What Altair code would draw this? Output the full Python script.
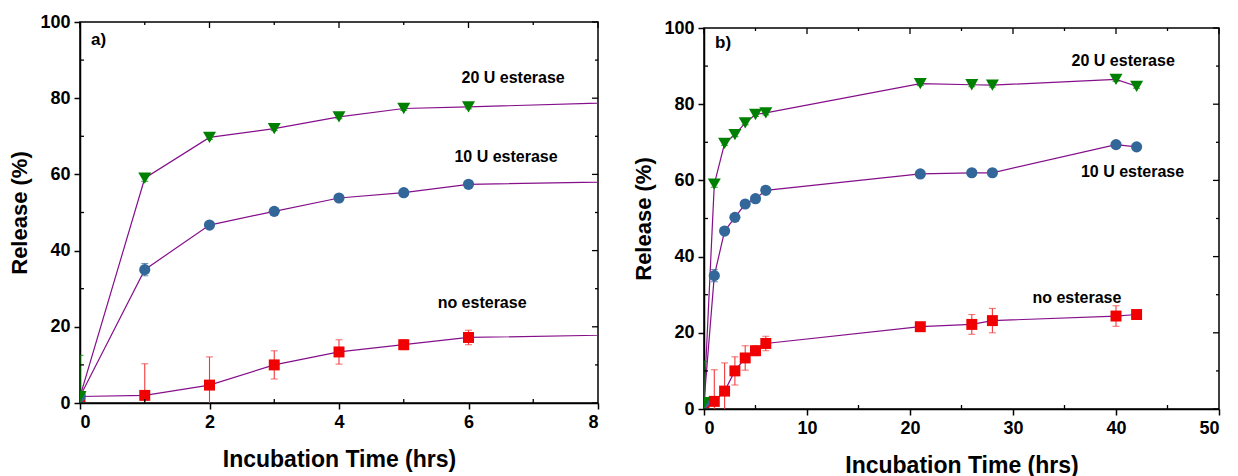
import altair as alt
import pandas as pd

# ---------------- data ----------------
times = [0, 1, 2, 3, 4, 5, 6, 21, 26, 28, 40, 42]

no_esterase = [1.7, 2.0, 4.7, 10.0, 13.4, 15.3, 17.2, 21.6, 22.2, 23.2, 24.4, 24.8]
no_esterase_err = [0.5, 8.3, 7.4, 3.7, 3.2, 1.3, 1.9, 1.0, 2.6, 3.2, 2.7, 0.5]

u10_esterase = [1.7, 35.0, 46.7, 50.3, 53.8, 55.2, 57.4, 61.7, 62.0, 62.0, 69.4, 68.8]
u10_esterase_err = [0.5, 1.6, 0.5, 0.5, 0.5, 0.5, 0.5, 0.5, 0.5, 0.5, 0.5, 0.5]

u20_esterase = [1.7, 59.0, 69.7, 72.0, 75.1, 77.3, 77.7, 85.4, 85.1, 85.0, 86.5, 84.7]
u20_esterase_err = [10.8, 0.8, 0.5, 0.5, 0.5, 0.5, 0.5, 0.5, 0.5, 0.5, 0.5, 0.5]

series_names = ["no esterase", "10 U esterase", "20 U esterase"]
series_values = [no_esterase, u10_esterase, u20_esterase]
series_errs = [no_esterase_err, u10_esterase_err, u20_esterase_err]

# annotations (data coordinates)
left_labels = ["20 U esterase", "10 U esterase", "no esterase"]
left_label_x = [6.69, 6.58, 6.21]
left_label_y = [85.3, 64.6, 26.2]
right_labels = ["20 U esterase", "10 U esterase", "no esterase"]
right_label_x = [40.7, 41.6, 36.2]
right_label_y = [91.4, 62.3, 29.2]

panel_tags = ["a)", "b)"]

y_major = [0, 20, 40, 60, 80, 100]
y_minor = [10, 30, 50, 70, 90]
left_x_major = [0, 2, 4, 6, 8]
left_x_minor = [1, 3, 5, 7]
right_x_major = [0, 10, 20, 30, 40, 50]
right_x_minor = [5, 15, 25, 35, 45]

# ---------------- styling ----------------
FONT = "Liberation Sans"
LINE_COLOR = "#850f8a"
MARK_COLORS = ["#f00000", "#336699", "#008000"]
ERR_COLORS = ["#f23a3a", "#336699", "#008000"]
SHAPES = ["square", "circle", "triangle-down"]
SIZES = [120, 125, 170]
XTITLE = "Incubation Time (hrs)"
YTITLE = "Release (%)"

frames = []
for name, vals, errs in zip(series_names, series_values, series_errs):
    for t, v, e in zip(times, vals, errs):
        frames.append({"series": name, "t": t, "v": v, "lo": v - e, "hi": v + e})
df = pd.DataFrame(frames)


def panel(xdomain, xmaj, xmin, W, H, labels, lx, ly, tag, tag_x, tag_y):
    xs = alt.Scale(domain=xdomain, nice=False)
    ys = alt.Scale(domain=[0, 100], nice=False)
    xaxis = alt.Axis(values=xmaj, title=XTITLE, format="d")
    yaxis = alt.Axis(values=y_major, title=YTITLE, format="d")

    def X(f):
        return alt.X(f"{f}:Q", scale=xs, axis=xaxis, title=XTITLE)

    def Y(f):
        return alt.Y(f"{f}:Q", scale=ys, axis=yaxis, title=YTITLE)

    base = alt.Chart(df)

    layers = []
    layers.append(
        base.mark_line(color=LINE_COLOR, strokeWidth=1.2, clip=True).encode(
            x=X("t"), y=Y("v"), detail="series:N"
        )
    )
    for i, name in enumerate(series_names):
        sub = base.transform_filter(alt.datum.series == name)
        layers.append(
            sub.mark_rule(color=ERR_COLORS[i], strokeWidth=1.1, clip=True).encode(
                x=X("t"), y=Y("lo"), y2="hi:Q",
            )
        )
        for col in ["lo", "hi"]:
            layers.append(
                sub.mark_tick(color=ERR_COLORS[i], orient="horizontal", size=7,
                              thickness=1.1, clip=True).encode(
                    x=X("t"), y=Y(col),
                )
            )
    for i, name in enumerate(series_names):
        sub = base.transform_filter(alt.datum.series == name)
        layers.append(
            sub.mark_point(filled=True, opacity=1, shape=SHAPES[i], size=SIZES[i],
                           color=MARK_COLORS[i], clip=True).encode(
                x=X("t"), y=Y("v"),
            )
        )

    # annotations
    ann = pd.DataFrame({"label": labels, "x": lx, "y": ly})
    layers.append(
        alt.Chart(ann).mark_text(font=FONT, fontSize=16, fontWeight="bold",
                                 color="black", align="center", baseline="middle").encode(
            x=X("x"), y=Y("y"), text="label:N",
        )
    )
    tagdf = pd.DataFrame({"label": [tag], "x": [tag_x], "y": [tag_y]})
    layers.append(
        alt.Chart(tagdf).mark_text(font=FONT, fontSize=17, fontWeight="bold",
                                   color="black", align="left", baseline="middle").encode(
            x=X("x"), y=Y("y"), text="label:N",
        )
    )

    # ticks: minor inward on bottom/left, major+minor inward on top/right
    def xticks(vals, length, top):
        d = pd.DataFrame({"p": vals})
        if top:
            yy = dict(y=alt.value(0), y2=alt.value(length))
        else:
            yy = dict(y=alt.value(H), y2=alt.value(H - length))
        return alt.Chart(d).mark_rule(color="black", strokeWidth=1.3).encode(
            x=X("p"), **yy
        )

    def yticks(vals, length, right):
        d = pd.DataFrame({"p": vals})
        if right:
            xx = dict(x=alt.value(W), x2=alt.value(W - length))
        else:
            xx = dict(x=alt.value(0), x2=alt.value(length))
        return alt.Chart(d).mark_rule(color="black", strokeWidth=1.3).encode(
            y=Y("p"), **xx
        )

    layers += [
        xticks(xmin, 4, False),
        xticks(xmaj, 6, True),
        xticks(xmin, 3, True),
        yticks(y_minor, 4, False),
        yticks(y_major, 6, True),
        yticks(y_minor, 3, True),
    ]
    return alt.layer(*layers).properties(width=W, height=H)


left = panel([0, 8], left_x_major, left_x_minor, 518, 381,
             left_labels, left_label_x, left_label_y, panel_tags[0], 0.17, 95.3)
right = panel([0, 50], right_x_major, right_x_minor, 515, 381,
              right_labels, right_label_x, right_label_y, panel_tags[1], 1.07, 96.0)

# invisible spacer to drop panel b) a few pixels lower, as in the original
spacer = alt.Chart(pd.DataFrame({"a": [0]})).mark_point(opacity=0).encode(
    x=alt.X("a:Q", axis=None), y=alt.Y("a:Q", axis=None)
).properties(width=515, height=6, view=alt.ViewBackground(stroke="transparent"))

right_col = alt.vconcat(spacer, right, spacing=0, bounds="flush")

chart = alt.hconcat(left, right_col, spacing=32).properties(
    padding={"left": 0, "top": 4, "right": 0, "bottom": 0}
).configure_view(
    stroke="black", strokeWidth=1.5
).configure_axis(
    labelFont=FONT, labelFontSize=18, labelFontWeight="bold", labelColor="black",
    titleFont=FONT, titleFontSize=22, titleFontWeight="bold", titleColor="black",
    grid=False, domainColor="black", domainWidth=1.5,
    tickColor="black", tickWidth=1.5, tickSize=6, labelPadding=4,
).configure_axisY(
    titlePadding=8
).configure_axisX(
    titlePadding=17, titleFontSize=23
)

chart.save("out.html", embed_options={"renderer": "svg", "actions": False})
